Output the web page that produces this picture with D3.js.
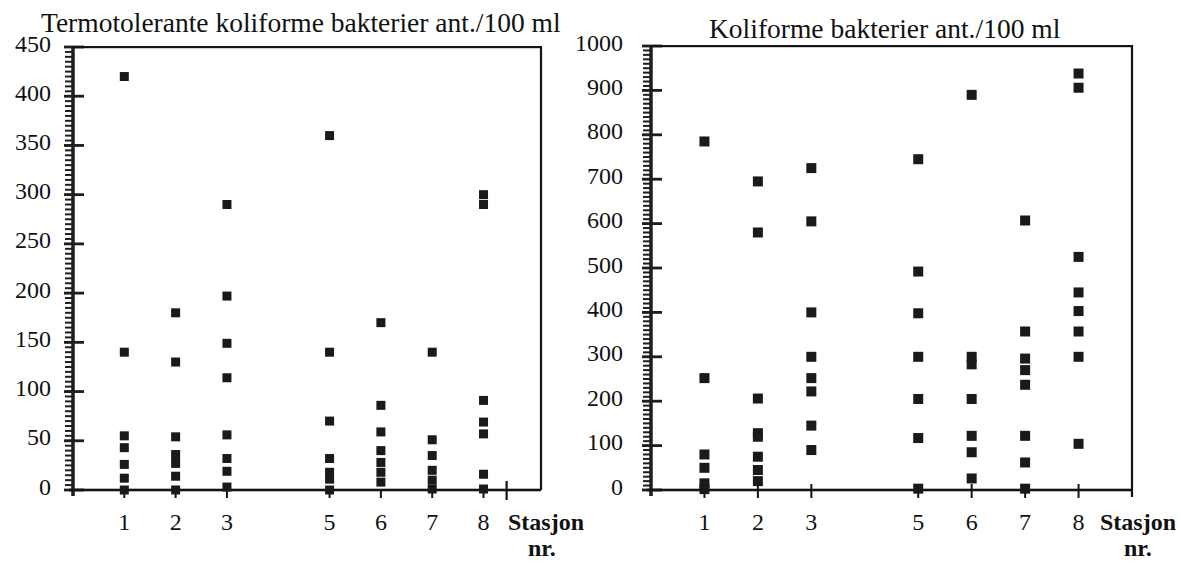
<!DOCTYPE html>
<html>
<head>
<meta charset="utf-8">
<script src="https://cdn.jsdelivr.net/npm/d3@7"></script>
<style>
  body { margin: 0; background: #fff; }
  svg text { font-family: "Liberation Serif", "Times New Roman", Times, serif; fill: #111; }
</style>
</head>
<body>
<div id="main"></div>
<script>
// stations along the x axis
var stations = [1, 2, 3, 5, 6, 7, 8];

// termotolerante koliforme bakterier, one row per station
var termoValues = [
  [420, 140, 55, 43, 26, 12, 0],
  [180, 130, 54, 36, 27, 14, 0],
  [290, 197, 149, 114, 56, 32, 19, 3],
  [360, 140, 70, 32, 18, 11, 0],
  [170, 86, 59, 40, 28, 18, 8],
  [140, 51, 35, 20, 10, 1],
  [300, 290, 91, 69, 57, 16, 1]
];

// koliforme bakterier, one row per station
var koliValues = [
  [785, 252, 80, 50, 15, 2],
  [695, 580, 206, 128, 120, 75, 45, 20],
  [725, 605, 400, 300, 252, 222, 145, 90],
  [745, 492, 398, 300, 205, 117, 3],
  [890, 300, 283, 205, 122, 85, 26],
  [607, 357, 296, 270, 237, 122, 62, 3],
  [938, 906, 525, 445, 403, 357, 300, 104]
];

var termoTicks = [0, 50, 100, 150, 200, 250, 300, 350, 400, 450];
var koliTicks = [0, 100, 200, 300, 400, 500, 600, 700, 800, 900, 1000];

var width = 1181, height = 567;
var ink = "#141414";
var axisInk = "#1e1e1e";
var svg = d3.select("#main").append("svg")
  .attr("width", width).attr("height", height);

function drawPanel(p) {
  var x = d3.scaleLinear().domain(p.xDomain).range(p.xRange);
  var y = d3.scaleLinear().domain([0, p.yMax]).range(p.yRange);
  var g = svg.append("g");
  var x0 = x(0), xr = x(p.xDomain[1]), yTop = y(p.yMax), yBot = y(0);

  // y axis line
  g.append("rect").attr("x", x0 - 1.75).attr("y", yTop).attr("width", 3.5)
    .attr("height", yBot - yTop + 6).attr("fill", axisInk);

  // minor ticks (outside only)
  var minors = d3.range(0, p.yMax + 0.01, p.minorStep);
  g.append("g").selectAll("rect").data(minors).enter().append("rect")
    .attr("x", x0 - 8).attr("width", 8)
    .attr("y", function (d) { return y(d) - 1; }).attr("height", 2)
    .attr("fill", axisInk);

  // major ticks, crossing the axis
  g.append("g").selectAll("rect").data(p.ticks).enter().append("rect")
    .attr("x", x0 - 9).attr("width", 20)
    .attr("y", function (d) { return y(d) - 1.4; }).attr("height", 2.8)
    .attr("fill", axisInk);

  // labels through the axis generator
  var ax = g.append("g")
    .attr("transform", "translate(" + x0 + ",0)")
    .call(d3.axisLeft(y).tickValues(p.ticks).tickSize(0)
      .tickPadding(p.labelGap).tickFormat(d3.format("d")));
  ax.attr("font-family", "Liberation Serif, Times New Roman, serif")
    .attr("font-size", 24);
  ax.select(".domain").remove();
  ax.selectAll(".tick text")
    .attr("dy", 4).attr("fill", ink)
    .style("font-family", "Liberation Serif, Times New Roman, serif")
    .style("font-size", "24px");

  // frame: x axis, top and right
  g.append("rect").attr("x", x0 - 4).attr("y", yBot - 1.3).attr("width", xr - x0 + 4)
    .attr("height", 2.6).attr("fill", ink);
  g.append("rect").attr("x", x0).attr("y", yTop - 1).attr("width", xr - x0)
    .attr("height", 2.2).attr("fill", ink);
  g.append("rect").attr("x", xr - 1.1).attr("y", yTop - 1).attr("width", 2.2)
    .attr("height", yBot - yTop + 1 + p.rightTail).attr("fill", ink);

  // station ticks
  g.selectAll("line.xTick").data(stations).enter().append("line")
    .attr("class", "xTick")
    .attr("x1", function (d) { return x(d); }).attr("x2", function (d) { return x(d); })
    .attr("y1", yBot - p.tickUp).attr("y2", yBot + 8)
    .attr("stroke", ink).attr("stroke-width", 2);
  if (p.extraTick) {
    g.append("line").attr("x1", x(p.extraTick)).attr("x2", x(p.extraTick))
      .attr("y1", yBot - 9).attr("y2", yBot + 10)
      .attr("stroke", ink).attr("stroke-width", 2.2);
  }

  // station labels
  g.selectAll("text.xLab").data(stations).enter().append("text")
    .attr("class", "xLab")
    .attr("x", function (d) { return x(d); }).attr("y", 530)
    .attr("text-anchor", "middle").style("font-size", "24px")
    .text(function (d) { return d; });
  g.append("text").attr("x", p.stasjonX).attr("y", 530)
    .style("font-size", "24px").style("font-weight", "bold").text("Stasjon");
  g.append("text").attr("x", p.nrX).attr("y", 556)
    .style("font-size", "24px").style("font-weight", "bold").text("nr.");

  // title
  g.append("text").attr("x", p.titleX).attr("y", p.titleY)
    .style("font-size", "27.5px").text(p.title);

  // points
  var pts = [];
  p.values.forEach(function (row, i) {
    row.forEach(function (v) { pts.push({ s: stations[i], v: v }); });
  });
  g.selectAll("rect.pt").data(pts).enter().append("rect")
    .attr("class", "pt")
    .attr("x", function (d) { return x(d.s) - p.mark / 2; })
    .attr("y", function (d) { return y(d.v) - p.mark / 2; })
    .attr("width", p.mark).attr("height", p.mark)
    .attr("fill", "#1a1a1a");
}

drawPanel({
  values: termoValues, ticks: termoTicks, yMax: 450, minorStep: 5,
  xDomain: [0, 9.12], xRange: [73, 541], yRange: [490, 47],
  labelGap: 22, extraTick: 8.45, rightTail: 0, tickUp: 0, mark: 9,
  stasjonX: 508, nrX: 528,
  title: "Termotolerante koliforme bakterier ant./100 ml", titleX: 41, titleY: 32
});

drawPanel({
  values: koliValues, ticks: koliTicks, yMax: 1000, minorStep: 10,
  xDomain: [0, 9], xRange: [651, 1132], yRange: [490, 46],
  labelGap: 28, extraTick: null, rightTail: 7, tickUp: 6, mark: 10,
  stasjonX: 1100, nrX: 1124,
  title: "Koliforme bakterier ant./100 ml", titleX: 709, titleY: 38
});
</script>
</body>
</html>
